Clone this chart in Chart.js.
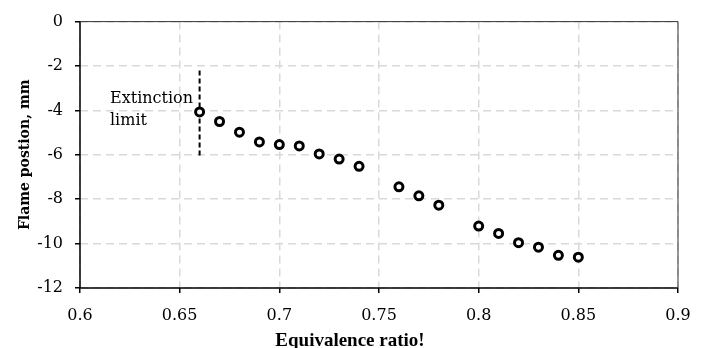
<!doctype html>
<html lang="en">
<head>
  <meta charset="utf-8">
  <title>Flame position</title>
  <script src="https://cdn.jsdelivr.net/npm/chart.js"></script>
  <style>
    html, body { margin: 0; padding: 0; background: #fff; }
    #wrap { width: 707px; height: 348px; }
  </style>
</head>
<body>
  <div id="wrap"><canvas id="grafico"></canvas></div>
  <script>
    // datos
    const ratios = [0.66, 0.67, 0.68, 0.69, 0.70, 0.71, 0.72, 0.73, 0.74,
                    0.76, 0.77, 0.78, 0.80, 0.81, 0.82, 0.83, 0.84, 0.85];
    const posiciones = [-4.07, -4.5, -4.98, -5.42, -5.54, -5.6, -5.96, -6.19, -6.52,
                        -7.44, -7.85, -8.27, -9.21, -9.54, -9.96, -10.16, -10.53, -10.61];
    // linea del limite de extincion
    const limiteX = [0.66, 0.66];
    const limiteY = [-2.2, -6.05];
    const xTicks = [0.6, 0.65, 0.7, 0.75, 0.8, 0.85, 0.9];
    const yTicks = [0, -2, -4, -6, -8, -10, -12];

    const puntos = ratios.map((x, i) => ({x: x, y: posiciones[i]}));
    const limite = limiteX.map((x, i) => ({x: x, y: limiteY[i]}));

    const fuenteTicks = {family: 'DejaVu Serif', size: 16};

    // marco del area, titulo del eje x y texto "Extinction limit"
    const marco = {
      id: 'marco',
      afterDraw(chart) {
        const {ctx, chartArea: a} = chart;
        ctx.save();
        ctx.strokeStyle = '#000';
        ctx.lineWidth = 1.5;
        ctx.beginPath();
        ctx.moveTo(a.left, a.top);
        ctx.lineTo(a.left, a.bottom);
        ctx.lineTo(a.right, a.bottom);
        ctx.stroke();
        ctx.lineWidth = 1;
        ctx.strokeStyle = '#333';
        ctx.beginPath();
        ctx.moveTo(a.left, a.top);
        ctx.lineTo(a.right, a.top);
        ctx.lineTo(a.right, a.bottom);
        ctx.stroke();

        ctx.fillStyle = '#000';
        ctx.textBaseline = 'alphabetic';
        ctx.textAlign = 'left';
        ctx.font = '16px "DejaVu Serif"';
        ctx.fillText('Extinction', 110, 103);
        ctx.fillText('limit', 110, 125);

        ctx.textAlign = 'center';
        ctx.font = 'bold 19px "Liberation Serif"';
        ctx.fillText('Equivalence ratio!', 350, 346);
        ctx.restore();
      }
    };

    new Chart(document.getElementById('grafico'), {
      type: 'scatter',
      data: {
        datasets: [{
          label: 'Flame position',
          data: puntos,
          pointRadius: 4,
          pointHoverRadius: 4,
          pointBorderWidth: 3,
          pointBackgroundColor: '#fff',
          pointBorderColor: '#000'
        }, {
          label: 'Extinction limit',
          data: limite,
          showLine: true,
          borderColor: '#000',
          borderWidth: 2,
          borderDash: [5, 3],
          pointRadius: 0
        }]
      },
      options: {
        responsive: true,
        maintainAspectRatio: false,
        animation: false,
        layout: { padding: { top: 18, right: 29, left: 0, bottom: 0 } },
        plugins: {
          legend: { display: false },
          tooltip: { enabled: false }
        },
        scales: {
          x: {
            type: 'linear',
            min: 0.6,
            max: 0.9,
            afterFit: (s) => { s.height = 60; },
            afterBuildTicks: (s) => { s.ticks = xTicks.map(v => ({value: v})); },
            grid: {
              color: '#d9d9d9',
              lineWidth: 1.5,
              tickColor: '#000',
              tickWidth: 1.5,
              tickLength: 5
            },
            border: { display: false, dash: [8, 5] },
            ticks: {
              color: '#000',
              font: fuenteTicks,
              padding: 13,
              maxRotation: 0,
              callback: (v) => String(Math.round(v * 100) / 100)
            }
          },
          y: {
            min: -12,
            max: 0,
            afterFit: (s) => { s.width = 80; },
            afterBuildTicks: (s) => { s.ticks = yTicks.map(v => ({value: v})); },
            grid: {
              color: '#d9d9d9',
              lineWidth: 1.5,
              tickColor: '#000',
              tickWidth: 1.5,
              tickLength: 5
            },
            border: { display: false, dash: [8, 5] },
            ticks: {
              color: '#000',
              font: fuenteTicks,
              padding: 12
            },
            title: {
              display: true,
              text: 'Flame postion, mm',
              color: '#000',
              font: {family: 'DejaVu Serif', size: 14, weight: 'bold'},
              padding: {top: 17, bottom: 0}
            }
          }
        }
      },
      plugins: [marco]
    });
  </script>
</body>
</html>
